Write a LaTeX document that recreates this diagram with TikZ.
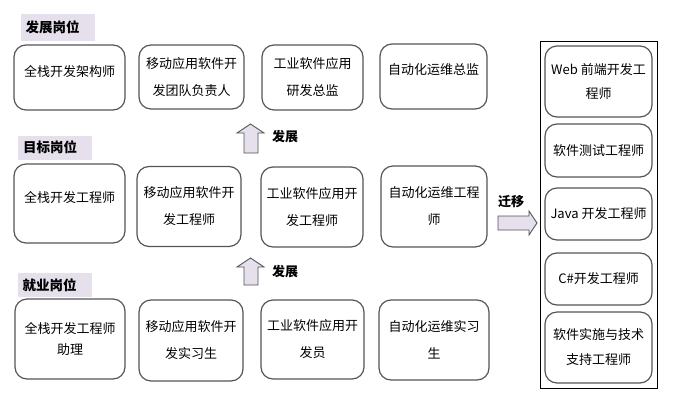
\documentclass[tikz,border=0pt]{standalone}
\usepackage{fontspec}
\setmainfont{Noto Sans CJK SC}

\definecolor{boxgray}{RGB}{85,85,85}
\definecolor{tagfill}{RGB}{229,224,236}

\begin{document}
\begin{tikzpicture}
[
	x=1pt,y=-1pt,
	jobbox/.style={draw=boxgray,line width=1.2pt,rounded corners=12pt,align=center,inner sep=2pt,
		font=\fontsize{13}{27}\selectfont,minimum width=107pt,minimum height=80pt},
	raised/.style={text depth=14pt},
	tag/.style={fill=tagfill,font=\bfseries\fontsize{13.5}{16}\selectfont,text width=64pt,align=left,
		inner xsep=5pt,minimum height=24pt},
	blockarrow/.style={draw=boxgray,fill=tagfill,line width=0.9pt},
	note/.style={font=\bfseries\fontsize{13}{16}\selectfont}
]

	\useasboundingbox (0,0) rectangle (676,399);

	% row titles
	\node[tag,minimum height=27pt] at (57.5,27.5) (tagtop) {发展岗位};
	\node[tag] at (55,147.5) (tagmid) {目标岗位};
	\node[tag] at (54.5,285) (taglow) {就业岗位};

	% development posts
	\node[jobbox,raised,minimum width=111pt,minimum height=65pt] at (69.5,77.5) (dev1) {全栈开发架构师};
	\node[jobbox,minimum width=105pt,minimum height=64pt] at (191.5,77) (dev2) {移动应用软件开\\发团队负责人};
	\node[jobbox,minimum width=101pt,minimum height=65pt] at (312.5,77.5) (dev3) {工业软件应用\\研发总监};
	\node[jobbox,raised,minimum width=107pt,minimum height=65pt] at (433.5,76.5) (dev4) {自动化运维总监};

	% target posts
	\node[jobbox,raised,minimum width=111pt,minimum height=79pt] at (69.5,203.5) (aim1) {全栈开发工程师};
	\node[jobbox,minimum width=104pt] at (189,206.5) (aim2) {移动应用软件开\\发工程师};
	\node[jobbox,minimum width=102pt] at (312,207) (aim3) {工业软件应用开\\发工程师};
	\node[jobbox,minimum width=106pt,minimum height=81pt] at (434,206.5) (aim4) {自动化运维工程\\师};

	% entry posts
	\node[jobbox,minimum width=110pt] at (70,339) (job1) {全栈开发工程师\\[-6pt]助理};
	\node[jobbox,minimum width=104pt,minimum height=81pt] at (191,340.5) (job2) {移动应用软件开\\发实习生};
	\node[jobbox,minimum width=103pt,minimum height=79pt] at (312.5,339.5) (job3) {工业软件应用开\\发员};
	\node[jobbox,minimum width=110pt] at (434,340) (job4) {自动化运维实习\\生};

	% growth arrows
	\draw[blockarrow] (244,153) -- (244,133) -- (237,133) -- (250.5,124) -- (264,133) -- (258,133) -- (258,153) -- cycle;
	\node[note] at (285,137) (growtop) {发展};
	\draw[blockarrow] (244,285) -- (244,267) -- (237,267) -- (250.5,258) -- (264,267) -- (258,267) -- (258,285) -- cycle;
	\node[note] at (285,272) (growlow) {发展};

	% transfer arrow
	\draw[blockarrow] (498,216) -- (529,216) -- (529,211) -- (537,223) -- (529,235) -- (529,230) -- (498,230) -- cycle;
	\node[note] at (511,202) (move) {迁移};

	% transfer posts
	\node[draw,line width=0.8pt,minimum width=117pt,minimum height=347pt,inner sep=0pt] at (598.5,214.5) (pool) {};
	\node[jobbox,minimum height=71pt,font=\fontsize{13}{24}\selectfont] at (598.5,81.5) (alt1) {Web 前端开发工\\程师};
	\node[jobbox,minimum height=53pt] at (598.5,150.5) (alt2) {软件测试工程师};
	\node[jobbox,minimum height=52pt] at (598.5,214) (alt3) {Java 开发工程师};
	\node[jobbox,minimum height=52pt] at (598.5,279) (alt4) {C\#开发工程师};
	\node[jobbox,minimum height=71pt,font=\fontsize{13}{25}\selectfont] at (598.5,347.5) (alt5) {软件实施与技术\\支持工程师};

\end{tikzpicture}
\end{document}
